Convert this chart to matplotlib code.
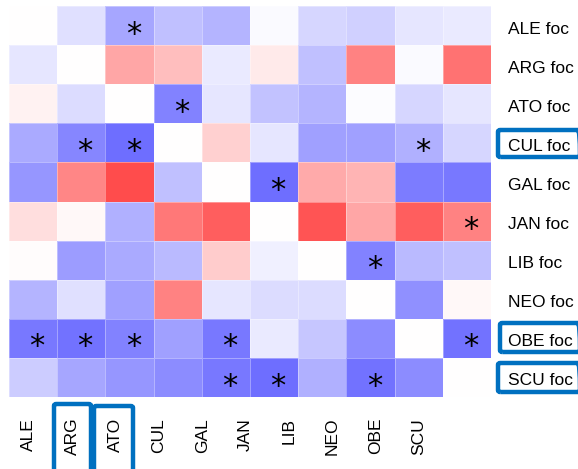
import numpy as np
import matplotlib.pyplot as plt
from matplotlib.colors import LinearSegmentedColormap
from matplotlib.patches import FancyBboxPatch

plt.rcParams['font.family'] = ['Liberation Sans', 'DejaVu Sans']

# columns (bottom) and rows (right)
cols = ["ALE", "ARG", "ATO", "CUL", "GAL", "JAN", "LIB", "NEO", "OBE", "SCU"]
rows = [c + " foc" for c in cols]

# correlation-like values (-1 blue ... +1 red)
ale_foc = [0.00, -0.12, -0.35, -0.25, -0.29, -0.02, -0.16, -0.18, -0.10, -0.08]
arg_foc = [-0.10, 0.00, 0.35, 0.25, -0.08, 0.08, -0.25, 0.49, -0.02, 0.55]
ato_foc = [0.05, -0.14, 0.00, -0.49, -0.10, -0.24, -0.29, -0.01, -0.16, -0.10]
cul_foc = [-0.33, -0.47, -0.57, 0.00, 0.18, -0.10, -0.37, -0.37, -0.31, -0.16]
gal_foc = [-0.41, 0.47, 0.70, -0.25, 0.00, -0.57, 0.33, 0.29, -0.51, -0.53]
jan_foc = [0.13, 0.03, -0.31, 0.53, 0.63, 0.00, 0.67, 0.35, 0.63, 0.49]
lib_foc = [0.01, -0.39, -0.33, -0.27, 0.20, -0.06, 0.00, -0.49, -0.27, -0.25]
neo_foc = [-0.29, -0.12, -0.37, 0.49, -0.10, -0.14, -0.14, 0.00, -0.43, 0.03]
obe_foc = [-0.53, -0.55, -0.49, -0.37, -0.53, -0.08, -0.22, -0.45, 0.00, -0.55]
scu_foc = [-0.20, -0.35, -0.41, -0.45, -0.53, -0.57, -0.31, -0.55, -0.45, 0.00]

# significant cells (row, col)
sig = [(0, 2), (2, 3), (3, 1), (3, 2), (3, 8), (4, 5), (5, 9), (6, 7),
       (8, 0), (8, 1), (8, 2), (8, 4), (8, 9), (9, 4), (9, 5), (9, 7)]

# labels that are highlighted with a blue box
boxed_rows = ["CUL foc", "OBE foc", "SCU foc"]
boxed_cols = ["ARG", "ATO"]

vals = np.array([ale_foc, arg_foc, ato_foc, cul_foc, gal_foc,
                 jan_foc, lib_foc, neo_foc, obe_foc, scu_foc])

cmap = LinearSegmentedColormap.from_list("bwr2", ["#0000ff", "#ffffff", "#ff0000"])

W, H = 578, 469
fig = plt.figure(figsize=(W / 100, H / 100), dpi=100)
ax = fig.add_axes([9 / W, 1 - 397 / H, 482 / W, 391 / H])

ax.pcolormesh(vals, cmap=cmap, vmin=-1, vmax=1,
              edgecolors=(1, 1, 1, 0.35), linewidth=0.6)
ax.set_xlim(0, 10)
ax.set_ylim(10, 0)

for r, c in sig:
    ax.text(c + 0.58, r + 0.72, "*", ha="center", va="center",
            fontsize=22, family="DejaVu Sans", color="black")

for s in ax.spines.values():
    s.set_visible(False)

# row labels on the right
ax.yaxis.tick_right()
ax.set_yticks(np.arange(10) + 0.55)
ax.set_yticklabels(rows, fontsize=12.5)
ax.tick_params(axis="y", length=0, pad=12)

# column labels (they sit on a slightly narrower pitch than the cells)
ax.set_xticks(0.41 + 0.9 * np.arange(10))
ax.set_xticklabels(cols, rotation=90, fontsize=12.5)
ax.tick_params(axis="x", length=0, pad=15)

# blue highlight boxes (pixel coords: x0, y0, x1, y1)
boxes = {"CUL foc": (498, 130, 580, 157),
         "OBE foc": (500, 323, 580, 352),
         "SCU foc": (498, 363, 580, 392),
         "ARG": (54, 404, 91, 475),
         "ATO": (94, 406, 133, 475)}
for name in boxed_rows + boxed_cols:
    x0, y0, x1, y1 = boxes[name]
    fig.patches.append(FancyBboxPatch(
        (x0 / W, 1 - y1 / H), (x1 - x0) / W, (y1 - y0) / H,
        boxstyle="round,pad=0,rounding_size=0.004", transform=fig.transFigure,
        fc="none", ec="#0070c0", lw=3.2, zorder=5))

fig.savefig("out.png", dpi=100)
